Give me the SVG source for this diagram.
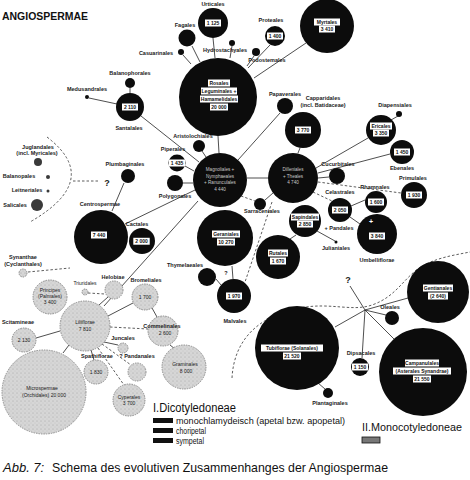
<svg xmlns="http://www.w3.org/2000/svg" width="470" height="480" viewBox="0 0 470 480">
<defs>
<pattern id="stip" width="4" height="4" patternUnits="userSpaceOnUse">
<rect width="4" height="4" fill="#d6d6d6"/>
<circle cx="1" cy="1" r="0.5" fill="#9a9a9a"/>
<circle cx="3" cy="3" r="0.4" fill="#b0b0b0"/>
</pattern>
<style>
text{font-family:"Liberation Sans",Arial,sans-serif}
.dk{fill:#0c0c0c}
.gr{fill:#3a3a3a}
.mn{fill:url(#stip);stroke:#8c8c8c;stroke-width:1;stroke-dasharray:1.5 1}
.lb{font-size:5.5px;font-weight:bold;fill:#1a1a1a;text-anchor:middle}
.ml{font-size:5px;fill:#1a1a1a;text-anchor:middle}
.wb{fill:#fff}
.bt{font-size:5px;font-weight:bold;fill:#111;text-anchor:middle}
.it{font-size:4.6px;fill:#c8c8c8;text-anchor:middle}
.ln{stroke:#222;stroke-width:0.8;fill:none}
.ds{stroke:#333;stroke-width:0.8;fill:none;stroke-dasharray:2.5 2}
.q{font-size:9px;font-weight:bold;fill:#222;text-anchor:middle}
</style>
</defs>
<rect width="470" height="480" fill="#fff"/>
<text x="2" y="20" font-size="11" font-weight="bold" fill="#111" textLength="86" lengthAdjust="spacingAndGlyphs">ANGIOSPERMAE</text>

<g id="connectors">
<line class="ln" x1="213" y1="38" x2="215" y2="58"/>
<line class="ln" x1="192" y1="46" x2="200" y2="62"/>
<line class="ln" x1="183" y1="55" x2="191" y2="64"/>
<line class="ln" x1="232" y1="46" x2="230" y2="58"/>
<line class="ln" x1="254" y1="56" x2="247" y2="66"/>
<line class="ln" x1="270" y1="45" x2="248" y2="68"/>
<line class="ln" x1="306" y1="43" x2="254" y2="78"/>
<line class="ln" x1="218" y1="136" x2="219" y2="153"/>
<line class="ln" x1="130" y1="88" x2="130" y2="93"/>
<line class="ln" x1="89" y1="98" x2="117" y2="104"/>
<line class="ln" x1="141" y1="116" x2="199" y2="162"/>
<line class="ln" x1="202" y1="151" x2="206" y2="157"/>
<line class="ln" x1="185" y1="166" x2="194" y2="171"/>
<line class="ln" x1="183" y1="183" x2="193" y2="183"/>
<line class="ln" x1="280" y1="113" x2="238" y2="160"/>
<line class="ln" x1="247" y1="178" x2="268" y2="178"/>
<line class="ln" x1="300" y1="148" x2="298" y2="153"/>
<line class="ds" x1="241" y1="196" x2="255" y2="201"/>
<line class="ln" x1="273" y1="193" x2="265" y2="200"/>
<line class="ln" x1="316" y1="168" x2="368" y2="138"/>
<line class="ln" x1="318" y1="173" x2="390" y2="154"/>
<line class="ln" x1="318" y1="178" x2="329" y2="177"/>
<line class="ds" x1="318" y1="182" x2="401" y2="193"/>
<line class="ds" x1="313" y1="192" x2="332" y2="201"/>
<line class="ln" x1="398" y1="116" x2="391" y2="120"/>
<line class="ln" x1="351" y1="206" x2="365" y2="200"/>
<line class="ln" x1="350" y1="217" x2="360" y2="224"/>
<line class="ln" x1="317" y1="231" x2="335" y2="241"/>
<line class="ln" x1="296" y1="235" x2="290" y2="239"/>
<line class="ds" x1="272" y1="202" x2="245" y2="282"/>
<line class="ln" x1="232" y1="266" x2="233" y2="279"/>
<line class="ln" x1="216" y1="279" x2="221" y2="285"/>
<line class="ln" x1="124" y1="183" x2="112" y2="211"/>
<line class="ln" x1="125" y1="224" x2="195" y2="190"/>
<line class="ln" x1="104" y1="306" x2="198" y2="201"/>
<path class="ds" d="M47,137 Q103,180 30,222"/>
<line class="ds" x1="73" y1="181" x2="100" y2="181"/>
<line class="ds" x1="28" y1="272" x2="70" y2="268"/>
<line class="ds" x1="88" y1="293" x2="105" y2="294"/>
<line class="ln" x1="99" y1="305" x2="108" y2="297"/>
<line class="ln" x1="108" y1="316" x2="133" y2="303"/>
<line class="ln" x1="152" y1="308" x2="157" y2="317"/>
<line class="ds" x1="110" y1="327" x2="148" y2="329"/>
<line class="ln" x1="104" y1="342" x2="118" y2="345"/>
<line class="ln" x1="91" y1="350" x2="94" y2="360"/>
<line class="ds" x1="102" y1="344" x2="131" y2="365"/>
<line class="ds" x1="98" y1="348" x2="124" y2="385"/>
<line class="ln" x1="36" y1="338" x2="60" y2="331"/>
<line class="ln" x1="69" y1="345" x2="63" y2="353"/>
<line class="ln" x1="170" y1="345" x2="175" y2="349"/>
<line class="ln" x1="365" y1="310" x2="350" y2="286"/>
<line class="ln" x1="365" y1="310" x2="386" y2="315"/>
<line class="ln" x1="365" y1="310" x2="408" y2="298"/>
<line class="ln" x1="365" y1="310" x2="335" y2="327"/>
<line class="ln" x1="365" y1="310" x2="362" y2="358"/>
<line class="ln" x1="365" y1="310" x2="394" y2="339"/>
<line class="ln" x1="318" y1="383" x2="325" y2="389"/>
<path class="ds" d="M232,378 C234,340 258,316 300,308 C330,302 352,312 372,305 C398,296 404,276 424,265 C440,257 455,255 470,252"/>
<text class="q" x="107" y="186">?</text>
<text class="q" x="348" y="283">?</text>
<text class="lb" x="226" y="275">?</text>
</g>

<g id="urticales"><circle class="dk" cx="213" cy="23" r="15"/><text class="lb" x="213" y="6">Urticales</text><rect class="wb" x="205" y="19.5" width="16" height="7"/><text class="bt" x="213" y="25">1 125</text></g>
<g id="fagales"><circle class="dk" cx="187" cy="38" r="8.5"/><text class="lb" x="185" y="27">Fagales</text></g>
<g id="casuarinales"><circle class="dk" cx="181" cy="52" r="3"/><text class="lb" x="156" y="55">Casuarinales</text></g>
<g id="hydrostachyales"><circle class="dk" cx="232" cy="43" r="3"/><text class="lb" x="225" y="52">Hydrostachyales</text></g>
<g id="podostemales"><circle class="dk" cx="256" cy="52" r="4"/><text class="lb" x="267" y="62">Podostemales</text></g>
<g id="proteales"><circle class="dk" cx="275" cy="36" r="10"/><text class="lb" x="271" y="22">Proteales</text><rect class="wb" x="267" y="32.5" width="16" height="7"/><text class="bt" x="275" y="38">1 400</text></g>
<g id="myrtales"><circle class="dk" cx="327" cy="26" r="27"/><rect class="wb" x="314" y="18.5" width="26" height="7"/><text class="bt" x="327" y="24">Myrtales</text><rect class="wb" x="319" y="25.5" width="16" height="7"/><text class="bt" x="327" y="31">3 410</text></g>
<g id="rosales"><circle class="dk" cx="218" cy="97" r="39"/>
<rect class="wb" x="208" y="79.5" width="22" height="7"/><text class="bt" x="219" y="85">Rosales</text>
<rect class="wb" x="201" y="87.5" width="36" height="7"/><text class="bt" x="219" y="93">Leguminales +</text>
<rect class="wb" x="200" y="95.5" width="38" height="7"/><text class="bt" x="219" y="101">Hamamelidales</text>
<rect class="wb" x="210" y="103.5" width="18" height="7"/><text class="bt" x="219" y="109">20 000</text></g>
<g id="balanophorales"><circle class="dk" cx="130" cy="83" r="5"/><text class="lb" x="130" y="75">Balanophorales</text></g>
<g id="medusandrales"><circle class="dk" cx="87" cy="97" r="2"/><text class="lb" x="87" y="91">Medusandrales</text></g>
<g id="santalales"><circle class="dk" cx="130" cy="107" r="14"/><rect class="wb" x="122" y="103.5" width="16" height="7"/><text class="bt" x="130" y="109">2 110</text><text class="lb" x="129" y="130">Santalales</text></g>
<g id="papaverales"><circle class="dk" cx="285" cy="106" r="8"/><text class="lb" x="285" y="96">Papaverales</text></g>
<g id="capparidales"><circle class="dk" cx="303" cy="130" r="18"/><rect class="wb" x="295" y="126.5" width="16" height="7"/><text class="bt" x="303" y="132">3 770</text><text class="lb" x="323" y="100">Capparidales</text><text class="lb" x="323" y="107">(incl. Batidaceae)</text></g>
<g id="diapensiales"><circle class="dk" cx="399" cy="114" r="3"/><text class="lb" x="395" y="107">Diapensiales</text></g>
<g id="ericales"><circle class="dk" cx="381" cy="130" r="15"/><rect class="wb" x="370" y="122.5" width="22" height="7"/><text class="bt" x="381" y="128">Ericales</text><rect class="wb" x="373" y="129.5" width="16" height="7"/><text class="bt" x="381" y="135">3 350</text></g>
<g id="ebenales"><circle class="dk" cx="402" cy="152" r="12"/><rect class="wb" x="394" y="148.5" width="16" height="7"/><text class="bt" x="402" y="154">1 450</text><text class="lb" x="402" y="170">Ebenales</text></g>
<g id="primulales"><circle class="dk" cx="414" cy="195" r="13"/><rect class="wb" x="406" y="191.5" width="16" height="7"/><text class="bt" x="414" y="197">1 930</text><text class="lb" x="413" y="180">Primulales</text></g>
<g id="aristolochiales"><circle class="dk" cx="199" cy="146" r="6"/><text class="lb" x="193" y="138">Aristolochiales</text></g>
<g id="piperales"><circle class="dk" cx="177" cy="163" r="8.5"/><rect class="wb" x="169" y="159.5" width="16" height="7"/><text class="bt" x="177" y="165">1 435</text><text class="lb" x="173" y="151">Piperales</text></g>
<g id="polygonales"><circle class="dk" cx="175" cy="183" r="8"/><text class="lb" x="175" y="198">Polygonales</text></g>
<g id="magnoliales"><circle class="dk" cx="220" cy="180" r="27"/><text class="it" x="220" y="171">Magnoliales +</text><text class="it" x="220" y="177.5">Nymphaeales</text><text class="it" x="220" y="184">+ Ranunculales</text><text class="it" x="220" y="190.5">4 440</text></g>
<g id="dilleniales"><circle class="dk" cx="293" cy="178" r="25"/><text class="it" x="293" y="171">Dilleniales</text><text class="it" x="293" y="177.5">+ Theales</text><text class="it" x="293" y="184">4 740</text></g>
<g id="cucurbitales"><circle class="dk" cx="337" cy="176" r="8"/><text class="lb" x="338" y="166">Cucurbitales</text></g>
<g id="celastrales"><circle class="dk" cx="340" cy="210" r="12"/><rect class="wb" x="332" y="206.5" width="16" height="7"/><text class="bt" x="340" y="212">2 050</text><text class="lb" x="340" y="194">Celastrales</text><text class="lb" x="339" y="230">+ Pandales</text></g>
<g id="rhamnales"><circle class="dk" cx="376" cy="202" r="11"/><rect class="wb" x="368" y="198.5" width="16" height="7"/><text class="bt" x="376" y="204">1 600</text><text class="lb" x="375" y="189">Rhamnales</text></g>
<g id="umbelliflorae"><circle class="dk" cx="377" cy="234" r="20"/><text x="371" y="224" font-size="7" font-weight="bold" fill="#fff" text-anchor="middle">+</text><rect class="wb" x="369" y="232.5" width="16" height="7"/><text class="bt" x="377" y="238">3 840</text><text class="lb" x="377" y="262">Umbelliflorae</text></g>
<g id="julianiales"><circle class="dk" cx="336" cy="242" r="1.5"/><text class="lb" x="336" y="250">Julianiales</text></g>
<g id="sarraceniales"><circle class="dk" cx="260" cy="204" r="6"/><text class="lb" x="262" y="213">Sarraceniales</text></g>
<g id="sapindales"><circle class="dk" cx="305" cy="221" r="16"/><rect class="wb" x="291" y="213.5" width="28" height="7"/><text class="bt" x="305" y="219">Sapindales</text><rect class="wb" x="297" y="220.5" width="16" height="7"/><text class="bt" x="305" y="226">2 850</text></g>
<g id="geraniales"><circle class="dk" cx="225" cy="238" r="28"/><rect class="wb" x="212" y="230.5" width="28" height="7"/><text class="bt" x="226" y="236">Geraniales</text><rect class="wb" x="217" y="238.5" width="18" height="7"/><text class="bt" x="226" y="244">10 270</text></g>
<g id="rutales"><circle class="dk" cx="278" cy="257" r="22"/><rect class="wb" x="268" y="249.5" width="20" height="7"/><text class="bt" x="278" y="255">Rutales</text><rect class="wb" x="270" y="257.5" width="16" height="7"/><text class="bt" x="278" y="263">1 670</text></g>
<g id="thymelaeales"><circle class="dk" cx="207" cy="277" r="9"/><text class="lb" x="185" y="267">Thymelaeales</text></g>
<g id="malvales"><circle class="dk" cx="234" cy="296" r="17"/><rect class="wb" x="226" y="292.5" width="16" height="7"/><text class="bt" x="234" y="298">1 970</text><text class="lb" x="235" y="323">Malvales</text></g>
<g id="plumbaginales"><circle class="dk" cx="128" cy="176" r="7"/><text class="lb" x="125" y="166">Plumbaginales</text></g>
<g id="centrospermae"><circle class="dk" cx="101" cy="237" r="27"/><rect class="wb" x="91" y="231.5" width="16" height="7"/><text class="bt" x="99" y="237">7 440</text><text class="lb" x="100" y="206">Centrospermae</text></g>
<g id="cactales"><circle class="dk" cx="142" cy="241" r="13"/><rect class="wb" x="133" y="237.5" width="17" height="7.5" stroke="#111" stroke-width="0.6"/><text class="bt" x="141.5" y="243">2 000</text><text class="lb" x="137" y="226">Cactales</text></g>
<g id="juglandales"><circle class="gr" cx="38" cy="162" r="4"/><text class="lb" x="38" y="149">Juglandales</text><text class="lb" x="37" y="155">(incl. Myricales)</text></g>
<g id="balanopales"><circle class="gr" cx="48" cy="177" r="2"/><text class="lb" x="19" y="178">Balanopales</text></g>
<g id="leitneriales"><circle class="gr" cx="48" cy="191" r="1.5"/><text class="lb" x="27" y="192">Leitneriales</text></g>
<g id="salicales"><circle class="gr" cx="37" cy="205" r="6"/><text class="lb" x="15" y="207">Salicales</text></g>

<g id="synanthae"><circle class="mn" cx="23" cy="273" r="4"/><text class="lb" x="23" y="259">Synanthae</text><text class="lb" x="23" y="266">(Cyclanthales)</text></g>
<g id="principes"><circle class="mn" cx="50" cy="297" r="17"/><text class="ml" x="50" y="292">Principes</text><text class="ml" x="50" y="298">(Palmales)</text><text class="ml" x="50" y="304">3 400</text></g>
<g id="triuridales"><circle class="mn" cx="85" cy="292" r="3"/><text class="ml" x="85" y="285" fill="#555">Triuridales</text></g>
<g id="helobiae"><circle class="mn" cx="114" cy="290" r="9"/><text class="lb" x="113" y="279">Helobiae</text></g>
<g id="bromeliales"><circle class="mn" cx="145" cy="297" r="13"/><text class="ml" x="145" y="299">1 700</text><text class="lb" x="146" y="282">Bromeliales</text></g>
<g id="liliiflorae"><circle class="mn" cx="85" cy="326" r="25"/><text class="ml" x="85" y="324">Liliiflorae</text><text class="ml" x="85" y="331">7 810</text></g>
<g id="scitamineae"><circle class="mn" cx="24" cy="340" r="12"/><text class="ml" x="24" y="342">2 130</text><text class="lb" x="18" y="324">Scitamineae</text></g>
<g id="commelinales"><circle class="mn" cx="163" cy="331" r="15"/><text class="lb" x="162" y="328">Commelinales</text><text class="ml" x="165" y="335">2 600</text></g>
<g id="juncales"><circle class="mn" cx="123" cy="348" r="5"/><text class="lb" x="123" y="340">Juncales</text></g>
<g id="spathiflorae"><circle class="mn" cx="96" cy="372" r="12"/><text class="ml" x="96" y="374">1 830</text><text class="lb" x="97" y="358">Spathiflorae</text></g>
<g id="pandanales"><circle class="mn" cx="137" cy="372" r="9"/><text class="lb" x="137" y="358">? Pandanales</text></g>
<g id="graminales"><circle class="mn" cx="184" cy="367" r="22"/><text class="ml" x="185" y="366">Graminales</text><text class="ml" x="186" y="373">8 000</text></g>
<g id="cyperales"><circle class="mn" cx="129" cy="400" r="16"/><text class="ml" x="129" y="399">Cyperales</text><text class="ml" x="129" y="405">3 700</text></g>
<g id="microspermae"><circle class="mn" cx="44" cy="392" r="42"/><text class="ml" x="42" y="390">Microspermae</text><text class="ml" x="44" y="397">(Orchidales) 20 000</text></g>

<g id="tubiflorae"><circle class="dk" cx="297" cy="348" r="42"/><rect class="wb" x="261" y="344.5" width="62" height="7"/><text class="bt" x="292" y="350">Tubiflorae (Solanales)</text><rect class="wb" x="283" y="352.5" width="18" height="7"/><text class="bt" x="292" y="358">21 520</text></g>
<g id="gentianales"><circle class="dk" cx="438" cy="292" r="31"/><rect class="wb" x="423" y="284.5" width="30" height="7"/><text class="bt" x="438" y="290">Gentianales</text><rect class="wb" x="428" y="292.5" width="20" height="7"/><text class="bt" x="438" y="298">(2 640)</text></g>
<g id="oleales"><circle class="dk" cx="392" cy="318" r="7"/><text class="lb" x="390" y="309">Oleales</text></g>
<g id="campanulales"><circle class="dk" cx="423" cy="372" r="44"/><rect class="wb" x="405" y="359.5" width="34" height="7"/><text class="bt" x="422" y="365">Campanulales</text><rect class="wb" x="393" y="367.5" width="58" height="7"/><text class="bt" x="422" y="373">(Asterales Synandrae)</text><rect class="wb" x="413" y="375.5" width="18" height="7"/><text class="bt" x="422" y="381">21 550</text></g>
<g id="dipsacales"><circle class="dk" cx="360" cy="367" r="9"/><rect class="wb" x="352" y="363.5" width="16" height="7"/><text class="bt" x="360" y="369">1 150</text><text class="lb" x="361" y="355">Dipsacales</text></g>
<g id="plantaginales"><circle class="dk" cx="328" cy="393" r="5"/><text class="lb" x="330" y="405">Plantaginales</text></g>

<g id="legend">
<text x="153" y="412" font-size="12" fill="#111" textLength="83" lengthAdjust="spacingAndGlyphs">I.Dicotyledoneae</text>
<rect x="153" y="418" width="20" height="5" fill="#111"/>
<rect x="153" y="428" width="20" height="5" fill="#111"/>
<rect x="153" y="438" width="20" height="5" fill="#111"/>
<text x="176" y="423.5" font-size="8.5" fill="#111" textLength="169" lengthAdjust="spacingAndGlyphs">monochlamydeisch (apetal bzw. apopetal)</text>
<text x="176" y="433.5" font-size="8.5" fill="#111" textLength="30" lengthAdjust="spacingAndGlyphs">choripetal</text>
<text x="176" y="443.5" font-size="8.5" fill="#111" textLength="28" lengthAdjust="spacingAndGlyphs">sympetal</text>
<text x="362" y="431" font-size="11" fill="#111" textLength="100" lengthAdjust="spacingAndGlyphs">II.Monocotyledoneae</text>
<rect x="362" y="437" width="18" height="6" fill="#777" stroke="#111" stroke-width="0.8"/>
</g>
<text x="3" y="472" font-family="Liberation Serif,serif" font-style="italic" font-size="13" fill="#111">Abb. 7:</text>
<text x="52" y="472" font-family="Liberation Serif,serif" font-size="13" fill="#111" textLength="336" lengthAdjust="spacingAndGlyphs">Schema des evolutiven Zusammenhanges der Angiospermae</text>
</svg>
